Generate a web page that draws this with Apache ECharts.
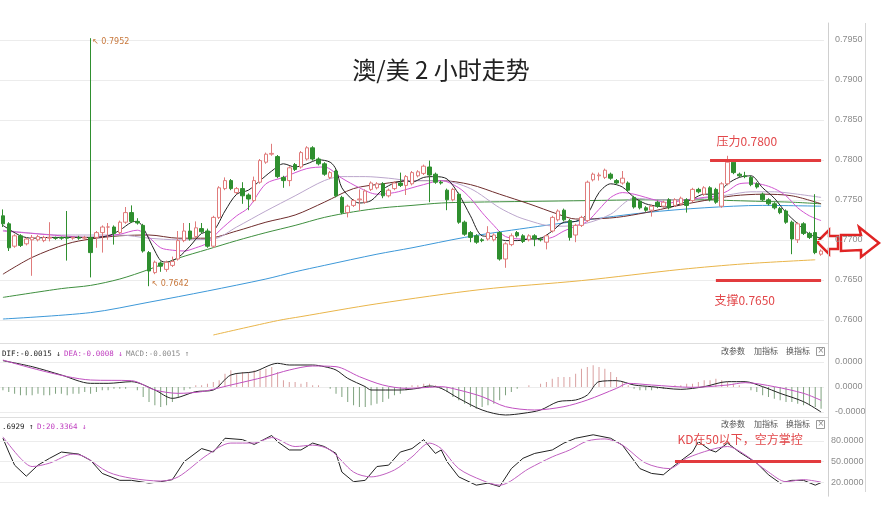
<!DOCTYPE html>
<html><head><meta charset="utf-8">
<script src="https://cdn.jsdelivr.net/npm/echarts@6/dist/echarts.min.js"></script>
<style>html,body{margin:0;padding:0;background:#fff}#c{width:882px;height:508px}</style>
</head><body><div id="c"></div>
<script>
const opens = [0.7730,0.7720,0.7692,0.7705,0.7695,0.7700,0.7700,0.7699,0.7702,0.7702,
0.7703,0.7703,0.7702,0.7703,0.7702,0.7703,0.7703,0.7709,0.7716,0.7716,
0.7709,0.7722,0.7734,0.7723,0.7718,0.7684,0.7659,0.7671,0.7663,0.7668,
0.7676,0.7699,0.7711,0.7704,0.7714,0.7711,0.7692,0.7728,0.7764,0.7774,
0.7759,0.7764,0.7756,0.7749,0.7772,0.7797,0.7807,0.7804,0.7778,0.7774,
0.7794,0.7791,0.7801,0.7815,0.7801,0.7795,0.7778,0.7786,0.7753,0.7734,
0.7743,0.7750,0.7747,0.7763,0.7765,0.7770,0.7755,0.7764,0.7771,0.7768,
0.7770,0.7780,0.7783,0.7791,0.7782,0.7772,0.7762,0.7750,0.7757,0.7722,
0.7709,0.7705,0.7700,0.7701,0.7700,0.7709,0.7676,0.7694,0.7709,0.7705,
0.7700,0.7705,0.7701,0.7697,0.7711,0.7725,0.7737,0.7724,0.7706,0.7718,
0.7724,0.7775,0.7780,0.7778,0.7782,0.7774,0.7771,0.7771,0.7753,0.7748,
0.7740,0.7737,0.7747,0.7742,0.7750,0.7743,0.7745,0.7750,0.7749,0.7763,
0.7757,0.7765,0.7763,0.7742,0.7770,0.7797,0.7782,0.7780,0.7778,0.7770,
0.7757,0.7750,0.7745,0.7739,0.7736,0.7722,0.7700,0.7720,0.7708,0.7709,
0.7682];
const closes = [0.7720,0.7690,0.7705,0.7693,0.7701,0.7703,0.7704,0.7703,0.7703,0.7702,
0.7702,0.7702,0.7703,0.7702,0.7703,0.7684,0.7709,0.7716,0.7716,0.7708,
0.7722,0.7734,0.7723,0.7721,0.7686,0.7661,0.7672,0.7667,0.7672,0.7673,
0.7699,0.7711,0.7701,0.7715,0.7710,0.7692,0.7728,0.7765,0.7774,0.7764,
0.7764,0.7755,0.7751,0.7774,0.7799,0.7807,0.7808,0.7779,0.7774,0.7790,
0.7788,0.7809,0.7815,0.7801,0.7795,0.7782,0.7784,0.7755,0.7734,0.7742,
0.7749,0.7751,0.7761,0.7771,0.7770,0.7755,0.7762,0.7771,0.7768,0.7779,
0.7784,0.7785,0.7792,0.7781,0.7772,0.7771,0.7750,0.7763,0.7722,0.7707,
0.7703,0.7697,0.7699,0.7709,0.7706,0.7676,0.7695,0.7705,0.7705,0.7698,
0.7705,0.7701,0.7700,0.7705,0.7728,0.7736,0.7725,0.7703,0.7718,0.7728,
0.7772,0.7782,0.7781,0.7787,0.7777,0.7771,0.7777,0.7762,0.7741,0.7740,
0.7737,0.7742,0.7742,0.7747,0.7740,0.7750,0.7752,0.7743,0.7763,0.7760,
0.7765,0.7750,0.7747,0.7770,0.7797,0.7784,0.7780,0.7779,0.7769,0.7766,
0.7750,0.7745,0.7740,0.7734,0.7722,0.7701,0.7720,0.7708,0.7703,0.7684,
0.7686];
const lows = [0.7716,0.7686,0.7690,0.7691,0.7693,0.7655,0.7698,0.7697,0.7698,0.7700,
0.7700,0.7674,0.7700,0.7700,0.7699,0.7653,0.7690,0.7684,0.7700,0.7694,
0.7707,0.7720,0.7721,0.7719,0.7684,0.7642,0.7657,0.7660,0.7660,0.7666,
0.7674,0.7697,0.7699,0.7702,0.7708,0.7690,0.7690,0.7726,0.7762,0.7762,
0.7757,0.7745,0.7737,0.7747,0.7770,0.7795,0.7805,0.7777,0.7765,0.7767,
0.7786,0.7789,0.7799,0.7799,0.7793,0.7780,0.7776,0.7753,0.7732,0.7728,
0.7741,0.7736,0.7745,0.7761,0.7763,0.7752,0.7753,0.7762,0.7766,0.7756,
0.7768,0.7778,0.7781,0.7747,0.7770,0.7769,0.7737,0.7748,0.7720,0.7705,
0.7697,0.7695,0.7697,0.7699,0.7698,0.7674,0.7665,0.7692,0.7703,0.7696,
0.7698,0.7692,0.7698,0.7688,0.7709,0.7723,0.7723,0.7699,0.7697,0.7716,
0.7722,0.7773,0.7774,0.7776,0.7775,0.7769,0.7769,0.7760,0.7739,0.7738,
0.7735,0.7729,0.7740,0.7740,0.7738,0.7741,0.7743,0.7734,0.7747,0.7758,
0.7755,0.7748,0.7745,0.7740,0.7768,0.7782,0.7778,0.7777,0.7767,0.7764,
0.7748,0.7743,0.7738,0.7732,0.7720,0.7682,0.7696,0.7706,0.7701,0.7682,
0.7680];
const highs = [0.7738,0.7722,0.7707,0.7707,0.7703,0.7706,0.7706,0.7705,0.7722,0.7704,
0.7704,0.7736,0.7704,0.7705,0.7705,0.7952,0.7711,0.7718,0.7721,0.7718,
0.7724,0.7741,0.7743,0.7727,0.7720,0.7686,0.7674,0.7673,0.7674,0.7679,
0.7711,0.7721,0.7721,0.7723,0.7721,0.7714,0.7730,0.7767,0.7778,0.7776,
0.7766,0.7772,0.7758,0.7779,0.7801,0.7809,0.7820,0.7806,0.7780,0.7792,
0.7796,0.7811,0.7817,0.7817,0.7803,0.7797,0.7786,0.7788,0.7755,0.7744,
0.7751,0.7763,0.7763,0.7773,0.7772,0.7772,0.7764,0.7773,0.7784,0.7781,
0.7786,0.7787,0.7794,0.7799,0.7784,0.7774,0.7764,0.7765,0.7759,0.7724,
0.7711,0.7707,0.7702,0.7717,0.7708,0.7711,0.7697,0.7708,0.7711,0.7707,
0.7707,0.7707,0.7703,0.7707,0.7730,0.7738,0.7739,0.7726,0.7720,0.7730,
0.7774,0.7784,0.7784,0.7789,0.7784,0.7776,0.7786,0.7773,0.7755,0.7750,
0.7742,0.7744,0.7749,0.7749,0.7752,0.7752,0.7754,0.7752,0.7765,0.7765,
0.7767,0.7767,0.7765,0.7772,0.7805,0.7799,0.7784,0.7785,0.7780,0.7772,
0.7759,0.7752,0.7747,0.7741,0.7738,0.7724,0.7722,0.7722,0.7710,0.7757,
0.7688];

// moving-average lines: [candle index, value]
const ma5 = [[0,0.7718],[3,0.7705],[5,0.7702],[8,0.7703],[15,0.7703],[18,0.7705],[20,0.7712],[22,0.7722],[23,0.7723],[24,0.7715],[26,0.7686],[27,0.7674],[28,0.7672],[30,0.7678],[32,0.7692],[34,0.7708],[36,0.7711],[38,0.7736],[40,0.7757],[42,0.7762],[44,0.7774],[46,0.7786],[48,0.7795],[50,0.7791],[52,0.7795],[54,0.7800],[56,0.7797],[57,0.7788],[58,0.7765],[60,0.7749],[61,0.7746],[63,0.7749],[65,0.7763],[67,0.7771],[69,0.7774],[70,0.7772],[72,0.7778],[74,0.7779],[76,0.7776],[78,0.7757],[80,0.7730],[82,0.7705],[84,0.7704],[86,0.7699],[88,0.7699],[90,0.7701],[92,0.7702],[94,0.7711],[96,0.7722],[98,0.7723],[100,0.7732],[102,0.7759],[104,0.7770],[106,0.7766],[108,0.7753],[110,0.7745],[112,0.7742],[114,0.7741],[116,0.7745],[118,0.7751],[120,0.7757],[122,0.7757],[124,0.7770],[126,0.7778],[128,0.7780],[130,0.7765],[132,0.7752],[134,0.7734],[136,0.7720],[138,0.7707],[140,0.7702]];
const ma10 = [[0,0.7711],[5,0.7708],[10,0.7705],[15,0.7703],[20,0.7707],[23,0.7712],[25,0.7703],[27,0.7690],[29,0.7687],[31,0.7686],[33,0.7690],[35,0.7696],[37,0.7711],[40,0.7730],[42,0.7740],[45,0.7770],[48,0.7778],[52,0.7789],[55,0.7791],[58,0.7777],[61,0.7765],[64,0.7757],[67,0.7759],[70,0.7765],[72,0.7769],[75,0.7774],[78,0.7765],[80,0.7752],[82,0.7734],[84,0.7718],[86,0.7704],[89,0.7701],[92,0.7701],[94,0.7703],[96,0.7711],[98,0.7717],[100,0.7723],[102,0.7738],[104,0.7753],[106,0.7759],[108,0.7757],[110,0.7753],[112,0.7749],[114,0.7746],[116,0.7749],[118,0.7751],[120,0.7753],[122,0.7755],[124,0.7761],[126,0.7770],[128,0.7771],[130,0.7769],[132,0.7764],[134,0.7755],[136,0.7740],[138,0.7730],[140,0.7724]];
const ma20 = [[0,0.7712],[10,0.7706],[20,0.7706],[25,0.7702],[30,0.7700],[36,0.7701],[40,0.7716],[45,0.7736],[50,0.7755],[55,0.7774],[58,0.7779],[62,0.7779],[66,0.7777],[70,0.7774],[75,0.7774],[80,0.7764],[85,0.7740],[88,0.7729],[90,0.7724],[93,0.7718],[96,0.7717],[100,0.7721],[104,0.7732],[108,0.7752],[112,0.7750],[116,0.7750],[120,0.7752],[124,0.7756],[128,0.7760],[132,0.7760],[136,0.7757],[140,0.7753]];
const ma30 = [[0,0.7657],[5,0.7678],[11,0.7695],[15,0.7701],[20,0.7705],[25,0.7706],[30,0.7702],[35,0.7702],[40,0.7711],[45,0.7722],[50,0.7731],[55,0.7747],[60,0.7764],[65,0.7770],[70,0.7774],[75,0.7774],[80,0.7769],[85,0.7757],[90,0.7745],[95,0.7732],[98,0.7726],[100,0.7726],[105,0.7728],[110,0.7734],[115,0.7742],[120,0.7749],[125,0.7755],[130,0.7757],[135,0.7755],[140,0.7745]];
const ma60 = [[0,0.7628],[10,0.7639],[15,0.7643],[20,0.7651],[25,0.7663],[30,0.7677],[35,0.7688],[40,0.7699],[45,0.7709],[50,0.7718],[55,0.7728],[60,0.7735],[65,0.7740],[70,0.7743],[75,0.7746],[80,0.7747],[90,0.7748],[100,0.7749],[110,0.7750],[120,0.7750],[125,0.7749],[130,0.7748],[135,0.7747],[140,0.7745]];
const ma120 = [[0,0.7601],[15,0.7609],[25,0.7622],[35,0.7636],[45,0.7651],[50,0.7660],[55,0.7668],[64,0.7682],[70,0.7690],[79,0.7703],[87,0.7712],[99,0.7724],[110,0.7734],[120,0.7740],[130,0.7743],[140,0.7742]];
const ma250 = [[36,0.7581],[47,0.7599],[51,0.7604],[64,0.7620],[82,0.7638],[99,0.7649],[116,0.7663],[127,0.7670],[139,0.7675]];

const macdHist = [-0.0002,-0.0003,-0.0004,-0.0005,-0.0005,-0.0005,-0.0004,-0.0005,-0.0005,-0.0004,-0.0004,-0.0005,-0.0004,-0.0004,-0.0003,-0.0004,-0.0003,-0.0002,-0.0002,-0.0001,-0.0001,-0.0001,0,-0.0002,
-0.0006,-0.0009,-0.0011,-0.0012,-0.0011,-0.0009,-0.0006,
-0.0002,-0.0001,0.0001,0.0001,0.0002,0.0003,
0.0004,0.0008,0.0010,0.0008,0.0009,0.0009,0.0010,0.0010,0.0011,0.0012,0.0009,
0.0004,0.0003,0.0003,0.0002,0.0003,0.0001,0.0001,0,
-0.0001,-0.0004,-0.0006,-0.0009,-0.0011,-0.0012,-0.0012,-0.0011,-0.0010,-0.0009,-0.0007,-0.0005,-0.0004,-0.0002,
0.0001,0.0001,0.0002,0.0002,0.0001,-0.0001,
-0.0003,
-0.0006,-0.0008,-0.0010,-0.0012,-0.0013,-0.0012,-0.0011,-0.0010,-0.0008,-0.0005,-0.0003,-0.0001,
0,0.0001,0,0.0002,
0.0003,0.0005,0.0006,0.0006,0.0006,0.0008,0.0011,0.0012,0.0013,0.0012,0.0011,0.0009,0.0006,
0.0003,0.0001,-0.0001,-0.0002,-0.0002,-0.0002,-0.0001,-0.0001,0,0.0001,0.0001,0.0002,0.0002,
0.0003,0.0004,0.0004,0.0005,0.0004,0.0003,0.0002,0.0001,0,
-0.0002,-0.0003,-0.0005,-0.0006,-0.0007,-0.0008,-0.0009,-0.0009,-0.0010,-0.0011,-0.0011,-0.0012,-0.0013];
const difLine = [[0,0.00158],[5,0.00122],[10,0.00072],[15,0.00022],[18,0.00022],[22,0.00032],[26,-0.00018],[29,-0.00068],[33,-0.00028],[36,-0.00018],[39,0.00072],[43,0.00092],[47,0.00142],[49,0.00132],[53,0.00132],[55,0.00122],[57,0.00102],[59,0.00052],[62,0.00002],[63,-0.00018],[68,-0.00018],[71,-0.00008],[73,0.00006],[75,-0.00008],[78,-0.00068],[82,-0.00138],[86,-0.00168],[89,-0.00158],[92,-0.00138],[95,-0.00088],[98,-0.00078],[100,-0.00048],[102,0.00032],[105,0.00038],[108,0.00012],[111,0.00002],[116,-0.00014],[120,0.00002],[124,0.00032],[127,0.00032],[130,0.00002],[133,-0.00038],[137,-0.00088],[140,-0.00150]];
const deaLine = [[0,0.00162],[15,0.00042],[22,0.00038],[26,-0.00018],[30,-0.00038],[34,-0.00028],[39,0.00012],[45,0.00062],[49,0.00102],[53,0.00126],[57,0.00122],[61,0.00062],[65,0.00012],[69,-0.00008],[73,-0.00002],[75,0.00002],[78,-0.00018],[82,-0.00058],[86,-0.00118],[91,-0.00138],[96,-0.00118],[100,-0.00078],[105,-0.00008],[107,0.00022],[111,0.00012],[118,-0.00002],[124,0.00012],[127,0.00026],[132,0.00002],[137,-0.00038],[140,-0.00080]];
const kLine = [[0,84],[1,64],[2,45],[4,29],[6,45],[8,55],[10,64],[13,61],[15,52],[17,33],[20,23],[22,23],[25,19],[27,21],[29,24],[31,50],[34,69],[36,64],[38,84],[41,82],[43,75],[46,88],[47,79],[49,67],[51,67],[53,77],[55,72],[57,62],[58,35],[60,21],[62,23],[64,43],[66,45],[68,64],[70,69],[72,82],[74,62],[75,67],[76,50],[78,28],[81,16],[83,19],[85,14],[87,40],[89,55],[91,62],[94,67],[96,77],[98,84],[101,89],[104,84],[106,74],[109,40],[111,33],[113,31],[115,45],[118,64],[119,79],[121,67],[122,64],[124,77],[126,64],[129,48],[131,31],[133,19],[135,23],[137,23],[139,16],[140,19.69]];
const dLine = [[0,86],[3,55],[5,43],[8,48],[12,61],[14,57],[18,35],[22,26],[27,22],[30,28],[35,60],[39,77],[43,77],[46,85],[50,72],[53,74],[56,67],[60,35],[63,28],[67,38],[70,57],[73,77],[75,69],[78,40],[82,23],[85,16],[90,40],[94,57],[97,67],[100,80],[103,83],[106,74],[110,48],[114,40],[117,55],[121,67],[124,72],[127,60],[131,35],[134,21],[137,24],[140,20.34]];
const kdLevels = [20, 50, 80];

const categories = opens.map((_, i) => String(i + 1));
const candles = opens.map((o, i) => [o, closes[i], lows[i], highs[i]]);

const chart = echarts.init(document.getElementById('c'), null, {renderer: 'canvas'});
const RED = '#e23b3e';
const axisBase = {
  type: 'value', position: 'right', offset: 4,
  axisLine: {show: true, lineStyle: {color: '#cfcfcf'}},
  axisTick: {show: false},
  splitLine: {show: true, showMinLine: false, showMaxLine: false, lineStyle: {color: '#ececec'}}
};
const lbl = {color: '#8c8c8c', fontSize: 9, fontFamily: 'Liberation Sans', margin: 7};
function maSeries(data, color) {
  return {type: 'line', data, xAxisIndex: 0, yAxisIndex: 0, showSymbol: false, symbol: 'none', smooth: 0.3,
    lineStyle: {width: 1, color}, silent: true, z: 3};
}
function hiddenPoint(coord, text, pos, style) {
  return {coord, symbol: 'circle', symbolSize: 1, itemStyle: {color: 'rgba(0,0,0,0)'},
    label: Object.assign({show: true, position: pos, formatter: text}, style)};
}
const smallOrange = {color: '#c8783c', fontSize: 8, fontFamily: 'DejaVu Sans'};
const redText = {color: '#e2474a', fontSize: 12, fontFamily: 'Noto Sans CJK SC', lineHeight: 14};

chart.setOption({
  animation: false,
  title: {text: '澳/美 2 小时走势', left: 'center', top: 53,
    textStyle: {fontSize: 24, fontWeight: 'normal', color: '#222', fontFamily: 'Noto Sans CJK SC'}},
  grid: [
    {left: 0, width: 824, top: 23, height: 336.8},
    {left: 0, width: 824, top: 356, height: 81},
    {left: 0, width: 824, top: 427.2, height: 69}
  ],
  xAxis: [0, 1, 2].map(g => ({type: 'category', data: categories, gridIndex: g, show: false, boundaryGap: true})),
  yAxis: [
    Object.assign({}, axisBase, {gridIndex: 0, min: 0.755, max: 0.7971, interval: 0.005,
      axisLabel: Object.assign({}, lbl, {formatter: v => (v < 0.7599 || v > 0.7951) ? '' : v.toFixed(4)})}),
    Object.assign({}, axisBase, {gridIndex: 1, min: -0.003, max: 0.00186, interval: 0.0015,
      axisLabel: Object.assign({}, lbl, {formatter: v => (v < -0.002 || v > 0.0016) ? '' : (v < -0.0001 ? '-0.0000' : '0.0000')})}),
    Object.assign({}, axisBase, {gridIndex: 2, min: 0, max: 100, interval: 10,
      splitLine: {show: false},
      axisLabel: Object.assign({}, lbl, {margin: 3, formatter: v => kdLevels.includes(Math.round(v)) ? v.toFixed(4) : ''})})
  ],
  graphic: [
    {type: 'line', shape: {x1: 0, y1: 343.5, x2: 828, y2: 343.5}, style: {stroke: '#dedede', lineWidth: 1}, silent: true},
    {type: 'line', shape: {x1: 0, y1: 417.5, x2: 828, y2: 417.5}, style: {stroke: '#dedede', lineWidth: 1}, silent: true},
    {type: 'line', shape: {x1: 865.5, y1: 23, x2: 865.5, y2: 492}, style: {stroke: '#d6d6d6', lineWidth: 1}, silent: true},
    {type: 'text', left: 2, top: 348, silent: true, style: {
      text: '{k|DIF:-0.0015 ↓} {m|DEA:-0.0008 ↓} {g|MACD:-0.0015 ↑}',
      rich: {k: {fill: '#222', fontSize: 7.5, fontFamily: 'DejaVu Sans Mono'},
             m: {fill: '#c040c0', fontSize: 7.5, fontFamily: 'DejaVu Sans Mono'},
             g: {fill: '#888', fontSize: 7.5, fontFamily: 'DejaVu Sans Mono'}}}},
    {type: 'text', left: 2, top: 421, silent: true, style: {
      text: '{k|.6929 ↑} {m|D:20.3364 ↓}',
      rich: {k: {fill: '#222', fontSize: 7.5, fontFamily: 'DejaVu Sans Mono'},
             m: {fill: '#c040c0', fontSize: 7.5, fontFamily: 'DejaVu Sans Mono'}}}},
    ...[[352, 347], [425, 420]].flatMap(([cy, ty]) => [
      {type: 'text', left: 721, top: ty, silent: true, style: {text: '改参数', fill: '#555', fontSize: 8, fontFamily: 'Noto Sans CJK SC'}},
      {type: 'text', left: 754, top: ty, silent: true, style: {text: '加指标', fill: '#555', fontSize: 8, fontFamily: 'Noto Sans CJK SC'}},
      {type: 'text', left: 786, top: ty, silent: true, style: {text: '换指标', fill: '#555', fontSize: 8, fontFamily: 'Noto Sans CJK SC'}},
      {type: 'rect', shape: {x: 816.5, y: cy - 4.5, width: 8, height: 8}, style: {stroke: '#999', fill: '#fff', lineWidth: 1}, silent: true},
      {type: 'text', left: 817.5, top: cy - 5, silent: true, style: {text: '×', fill: '#888', fontSize: 8, fontFamily: 'DejaVu Sans'}}
    ]),
    {type: 'polygon', silent: true, shape: {points: [[817, 242], [829, 230], [829, 236], [838, 236], [838, 249], [829, 249], [829, 254]]},
      style: {stroke: '#e02424', fill: '#fff', lineWidth: 2.5}},
    {type: 'polygon', silent: true, shape: {points: [[841, 235], [861, 235], [859, 227], [879, 243], [861, 257], [861, 250], [841, 251]]},
      style: {stroke: '#e02424', fill: '#fff', lineWidth: 2.5}}
  ],
  series: [
    {type: 'candlestick', name: 'K', data: candles, xAxisIndex: 0, yAxisIndex: 0, barWidth: 4, z: 4,
      itemStyle: {color: '#ffffff', color0: '#2f8f2f', borderColor: '#e07b7b', borderColor0: '#2f8f2f', borderWidth: 1},
      markLine: {silent: true, symbol: ['none', 'none'], label: {show: false},
        data: [
          [{coord: [121, 0.78], lineStyle: {color: RED, width: 3, type: 'solid'}}, {coord: [140, 0.78]}],
          [{coord: [122, 0.765], lineStyle: {color: RED, width: 3, type: 'solid'}}, {coord: [140, 0.765]}]
        ]},
      markPoint: {silent: true, data: [
        hiddenPoint([15, 0.7952], '↖ 0.7952', [2, 0], smallOrange),
        hiddenPoint([25, 0.7642], '↖ 0.7642', [3, -6], smallOrange),
        hiddenPoint([121, 0.78], '压力0.7800', [7, -25], redText),
        hiddenPoint([122, 0.765], '支撑0.7650', [-1, 14], redText)
      ]}
    },
    maSeries(ma250, '#e9b54a'),
    maSeries(ma120, '#3d98d8'),
    maSeries(ma60, '#3f8f3f'),
    maSeries(ma30, '#6e2c2c'),
    maSeries(ma20, '#bba6cc'),
    maSeries(ma10, '#d155d1'),
    maSeries(ma5, '#222222'),
    {type: 'bar', data: macdHist, xAxisIndex: 1, yAxisIndex: 1, barWidth: 1, silent: true,
      itemStyle: {color: p => p.value >= 0 ? '#d9a0a0' : '#7fa27f'}},
    {type: 'line', data: difLine, xAxisIndex: 1, yAxisIndex: 1, showSymbol: false, symbol: 'none', smooth: 0.3, silent: true,
      lineStyle: {width: 1, color: '#222'}},
    {type: 'line', data: deaLine, xAxisIndex: 1, yAxisIndex: 1, showSymbol: false, symbol: 'none', smooth: 0.3, silent: true,
      lineStyle: {width: 1, color: '#c050c0'}},
    {type: 'line', data: kLine, xAxisIndex: 2, yAxisIndex: 2, showSymbol: false, symbol: 'none', silent: true,
      lineStyle: {width: 1, color: '#222'},
      markLine: {silent: true, symbol: ['none', 'none'], label: {show: false},
        data: [
          ...kdLevels.map(v => ({yAxis: v, lineStyle: {color: '#ececec', width: 1, type: 'solid'}})),
          [{coord: [115, 50], lineStyle: {color: RED, width: 3, type: 'solid'}}, {coord: [140, 50]}]
        ]},
      markPoint: {silent: true, data: [hiddenPoint([115, 50], 'KD在50以下，空方掌控', [3, -29], redText)]}
    },
    {type: 'line', data: dLine, xAxisIndex: 2, yAxisIndex: 2, showSymbol: false, symbol: 'none', smooth: 0.3, silent: true,
      lineStyle: {width: 1, color: '#c060c0'}}
  ]
});
</script></body></html>
